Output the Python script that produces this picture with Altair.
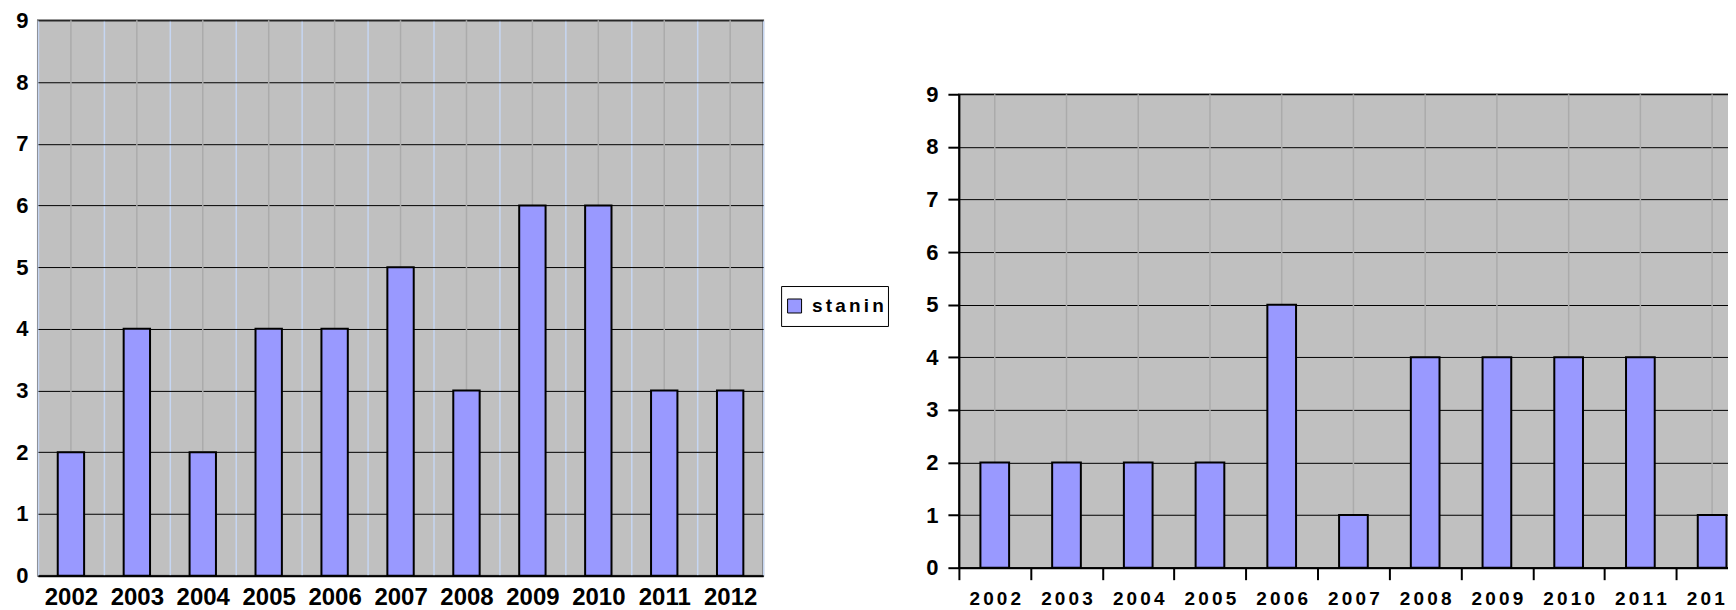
import altair as alt
import pandas as pd

# ---- data ----
years = ["2002", "2003", "2004", "2005", "2006", "2007", "2008", "2009", "2010", "2011", "2012"]
left_counts = [2, 4, 2, 4, 4, 5, 3, 6, 6, 3, 3]
right_counts = [2, 2, 2, 2, 5, 1, 4, 4, 4, 4, 1]
series_label = "stanin"
y_ticks = [0, 1, 2, 3, 4, 5, 6, 7, 8, 9]

FONT = "Liberation Sans"
BAR_FILL = "#9999ff"
PLOT_BG = "#c0c0c0"
SPACED = "join(split(datum.label, ''), '\u2006')"

left_df = pd.DataFrame({"year": years, "count": left_counts, "series": [series_label] * len(years)})
right_df = pd.DataFrame({"year": years, "count": right_counts})

band = alt.Scale(domain=years, paddingInner=0, paddingOuter=0)
BAR_W = alt.RelativeBandSize(band=0.4)

# ---------------- left chart ----------------
left_x = alt.X(
    "year:N", title=None, sort=years, scale=band,
    axis=alt.Axis(
        labelAngle=0, labelFont=FONT, labelFontSize=24, labelFontWeight="bold", labelColor="black",
        labelPadding=10, ticks=False, tickSize=0, domain=True, domainColor="black", domainWidth=2,
        grid=True, gridColor="#c6d6f2", gridWidth=1.5, tickBand="extent",
    ),
)
left_y = alt.Y(
    "count:Q", title=None, scale=alt.Scale(domain=[0, 9], nice=False),
    axis=alt.Axis(
        values=y_ticks, labelFont=FONT, labelFontSize=22, labelFontWeight="bold", labelColor="black",
        labelPadding=10, ticks=False, tickSize=0, domain=False, grid=True, gridColor="black", gridWidth=1,
    ),
)

left_rules = alt.Chart(left_df).mark_rule(color="#ababab", strokeWidth=1.5).encode(x=left_x)
left_bars = alt.Chart(left_df).mark_bar(stroke="black", strokeWidth=2, width=BAR_W).encode(
    x=left_x,
    y=left_y,
    color=alt.Color(
        "series:N",
        scale=alt.Scale(domain=[series_label], range=[BAR_FILL]),
        legend=alt.Legend(
            title=None, orient="none", legendX=744, legendY=266,
            symbolType="square", symbolSize=196, symbolStrokeColor="black", symbolStrokeWidth=1,
            labelFont=FONT, labelFontSize=19, labelFontWeight="bold", labelColor="black",
            labelOffset=8, labelExpr=SPACED, clipHeight=32,
            strokeColor="black", fillColor="white", padding=4, cornerRadius=0,
        ),
    ),
)
left = alt.layer(left_rules, left_bars).properties(
    width=726, height=556,
    view=alt.ViewBackground(fill=PLOT_BG, stroke="#777777", strokeWidth=2),
)

# ---------------- right chart ----------------
right_x = alt.X(
    "year:N", title=None, sort=years, scale=band,
    axis=alt.Axis(
        labelAngle=0, labelFont=FONT, labelFontSize=19, labelFontWeight="bold", labelColor="black",
        labelExpr=SPACED, labelPadding=10,
        ticks=True, tickSize=12, tickWidth=2, tickColor="black", tickBand="extent",
        domain=True, domainColor="black", domainWidth=2, grid=False,
    ),
)
right_y = alt.Y(
    "count:Q", title=None, scale=alt.Scale(domain=[0, 9], nice=False),
    axis=alt.Axis(
        values=y_ticks, labelFont=FONT, labelFontSize=22, labelFontWeight="bold", labelColor="black",
        labelPadding=10, ticks=True, tickSize=11, tickWidth=2, tickColor="black",
        domain=True, domainColor="black", domainWidth=2, grid=True, gridColor="black", gridWidth=1,
    ),
)
right_rules = alt.Chart(right_df).mark_rule(color="#ababab", strokeWidth=1.5).encode(x=right_x)
right_bars = alt.Chart(right_df).mark_bar(stroke="black", strokeWidth=2, fill=BAR_FILL, width=BAR_W).encode(
    x=right_x, y=right_y
)
right = alt.layer(right_rules, right_bars).properties(
    width=790, height=474,
    view=alt.ViewBackground(fill=PLOT_BG, stroke="#333333", strokeWidth=1.5),
)

spacer = alt.Chart(pd.DataFrame({"a": [0]})).mark_point(opacity=0).properties(
    width=1, height=62, view=alt.ViewBackground(stroke=None, fill=None)
)

# the right panel runs past the window edge in the reference: negative right padding crops it
chart = alt.hconcat(left, alt.vconcat(spacer, right, spacing=0), spacing=161).properties(
    padding={"left": 6, "top": 0, "right": -22, "bottom": 0},
    background="white",
)

chart.save("out.html", embed_options={"renderer": "svg", "actions": False})
